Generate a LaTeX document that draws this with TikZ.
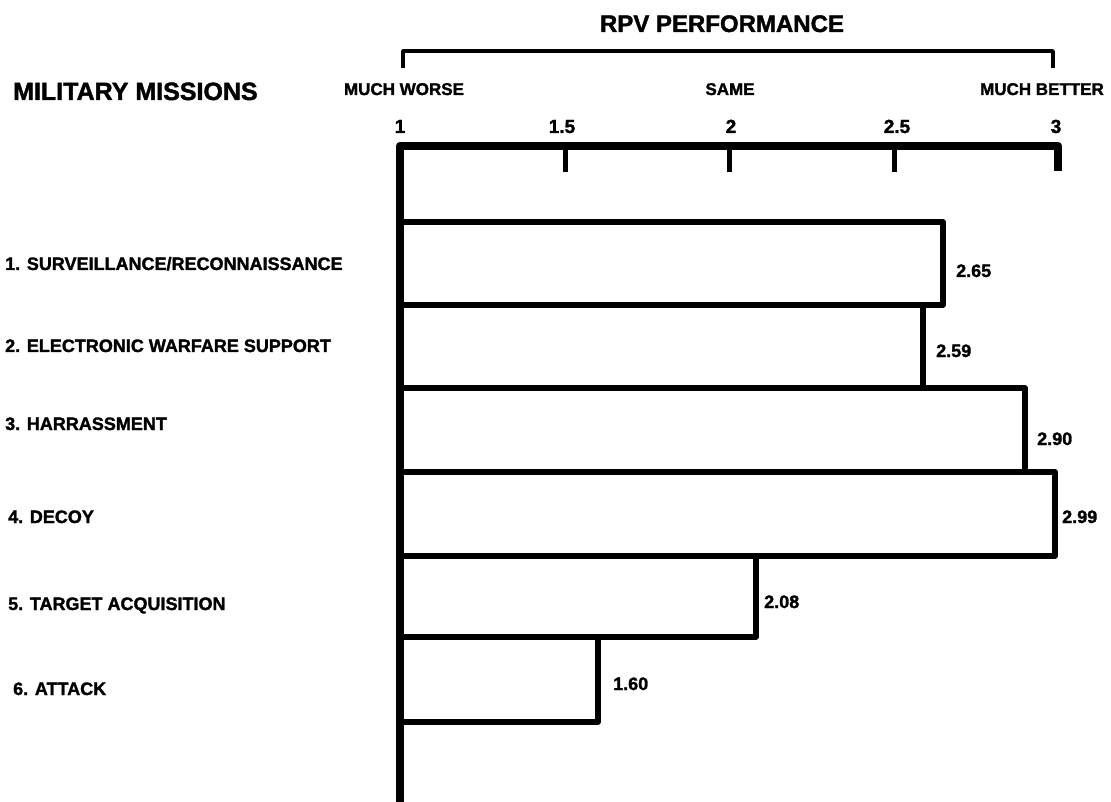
\documentclass[tikz,border=0pt]{standalone}
\usepackage{fontspec}
\setmainfont[BoldFeatures={FakeBold=1.6}]{Liberation Sans}
\begin{document}
\begin{tikzpicture}[x=1pt,y=-1pt,
  title/.style={font=\bfseries\fontsize{24}{26}\selectfont, inner sep=0pt, anchor=base},
  head/.style={font=\bfseries\fontsize{25}{27}\selectfont, inner sep=0pt, anchor=base west},
  scalelbl/.style={font=\bfseries\fontsize{17}{19}\selectfont, inner sep=0pt, anchor=base},
  ticklbl/.style={font=\bfseries\fontsize{19}{21}\selectfont, inner sep=0pt, anchor=base},
  mission/.style={font=\bfseries\fontsize{18}{20}\selectfont, inner sep=0pt, anchor=base west},
  vallbl/.style={font=\bfseries\fontsize{18}{20}\selectfont, inner sep=0pt, anchor=base west},
  barbox/.style={draw=black, fill=white, line width=5.5pt, line join=round},
  axisline/.style={line width=8.5pt, line join=round},
  tickline/.style={line width=5pt},
  bracketline/.style={line width=3.8pt, line join=round}]
\useasboundingbox (0,0) rectangle (1111,802);

% title and bracket
\node[title] (ttl) at (722,32) {RPV PERFORMANCE};
\coordinate (bl) at (403,68);
\coordinate (br) at (1053,68);
\draw[bracketline] (bl) -- (403,51) -- (1053,51) -- (br);

\node[scalelbl] (worse) at (404,95) {MUCH WORSE};
\node[scalelbl] (same) at (730,95) {SAME};
\node[scalelbl] (better) at (1042,95) {MUCH BETTER};
\node[head] (mm) at (13,100) {MILITARY MISSIONS};

% tick labels
\node[ticklbl] (t1) at (400,133) {1};
\node[ticklbl] (t15) at (562,133) {1.5};
\node[ticklbl] (t2) at (731,133) {2};
\node[ticklbl] (t25) at (897,133) {2.5};
\node[ticklbl] (t3) at (1056,133) {3};

% bars
\draw[barbox] (401,222) rectangle (943,305);
\draw[barbox] (401,305) rectangle (923,388);
\draw[barbox] (401,388) rectangle (1025,472);
\draw[barbox] (401,472) rectangle (1055,556);
\draw[barbox] (401,556) rectangle (756,637);
\draw[barbox] (401,637) rectangle (598,722);

% axis
\coordinate (ax0) at (400,802);
\coordinate (ax1) at (400,146);
\coordinate (ax2) at (1058,146);
\coordinate (ax3) at (1058,171);
\draw[axisline] (ax0) -- (ax1) -- (ax2) -- (ax3);
\draw[tickline] (565,146) -- (565,172);
\draw[tickline] (729,146) -- (729,172);
\draw[tickline] (894,146) -- (894,172);

% value labels
\node[vallbl] (v1) at (956,277) {2.65};
\node[vallbl] (v2) at (936,357) {2.59};
\node[vallbl] (v3) at (1037,445) {2.90};
\node[vallbl] (v4) at (1062,523) {2.99};
\node[vallbl] (v5) at (764,608) {2.08};
\node[vallbl] (v6) at (613,690) {1.60};

% mission labels
\node[mission] (m1) at (5,270) {1. SURVEILLANCE/RECONNAISSANCE};
\node[mission] (m2) at (5,352) {2. ELECTRONIC WARFARE SUPPORT};
\node[mission] (m3) at (5,430) {3. HARRASSMENT};
\node[mission] (m4) at (8,523) {4. DECOY};
\node[mission] (m5) at (8,610) {5. TARGET ACQUISITION};
\node[mission] (m6) at (13,695) {6. ATTACK};
\end{tikzpicture}
\end{document}
